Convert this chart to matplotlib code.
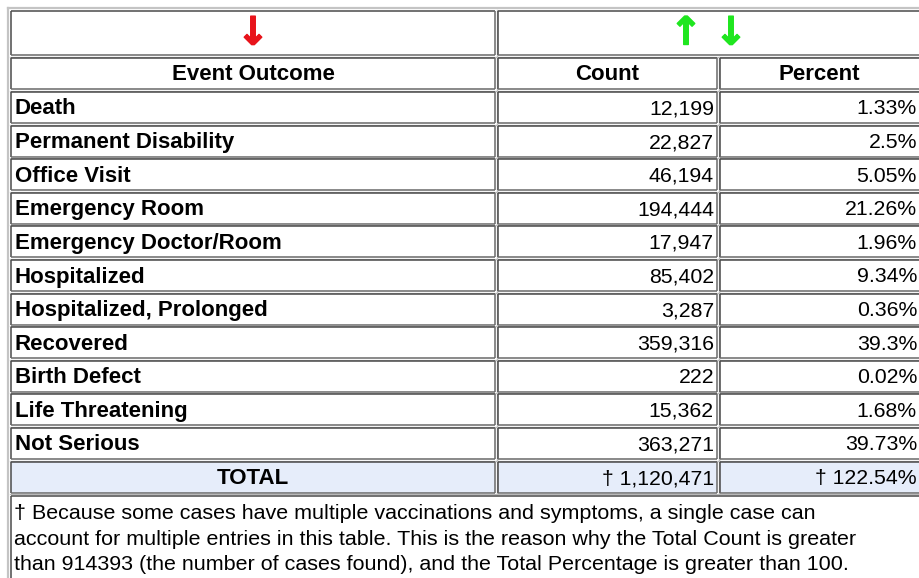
import matplotlib
matplotlib.use("Agg")
import matplotlib.pyplot as plt
from matplotlib.patches import Rectangle
import matplotlib.patheffects as pe

outcomes = ["Death", "Permanent Disability", "Office Visit", "Emergency Room",
            "Emergency Doctor/Room", "Hospitalized", "Hospitalized, Prolonged",
            "Recovered", "Birth Defect", "Life Threatening", "Not Serious"]
counts = [12199, 22827, 46194, 194444, 17947, 85402, 3287, 359316, 222, 15362, 363271]
percents = ["1.33%", "2.5%", "5.05%", "21.26%", "1.96%", "9.34%", "0.36%",
            "39.3%", "0.02%", "1.68%", "39.73%"]
headers = ["Event Outcome", "Count", "Percent"]
total_label = "TOTAL"
total_count = "\u2020 1,120,471"
total_percent = "\u2020 122.54%"
footnote = ["\u2020 Because some cases have multiple vaccinations and symptoms, a single case can",
            "account for multiple entries in this table. This is the reason why the Total Count is greater",
            "than 914393 (the number of cases found), and the Total Percentage is greater than 100."]

W, H = 919, 578
fig = plt.figure(figsize=(W / 100, H / 100), dpi=100)
ax = fig.add_axes([0, 0, 1, 1])
ax.set_xlim(0, W)
ax.set_ylim(H, 0)
ax.axis("off")

FONT = "Liberation Sans"
FS = 15.3
FSB = 16
FSN = 15.45

cols = [(11, 495), (498, 717), (720, 940)]
DARK = "#4a4a4a"
LIGHT = "#b8b8b8"


def cell(x0, x1, y0, y1, face="white"):
    ax.add_patch(Rectangle((x0, y0), x1 - x0, y1 - y0, facecolor=face,
                           edgecolor="none", zorder=1))
    ax.plot([x0, x1], [y0, y0], color=DARK, lw=1.1, zorder=2, solid_capstyle="butt")
    ax.plot([x0, x0], [y0, y1], color=DARK, lw=1.1, zorder=2, solid_capstyle="butt")
    ax.plot([x0, x1], [y1, y1], color="#6a6a6a", lw=1.1, zorder=2, solid_capstyle="butt")
    ax.plot([x1, x1], [y0, y1], color="#6a6a6a", lw=1.1, zorder=2, solid_capstyle="butt")
    ax.plot([x0 - 1.5, x1 + 1.5], [y1 + 1.5, y1 + 1.5], color=LIGHT, lw=0.9, zorder=2)
    ax.plot([x1 + 1.5, x1 + 1.5], [y0 - 1.5, y1 + 1.5], color=LIGHT, lw=0.9, zorder=2)


# outer table border
ax.plot([7.5, 7.5], [7.5, H + 5], color="#c4c4c4", lw=1.6, zorder=2)
ax.plot([7.5, W + 5], [7.5, 7.5], color="#c4c4c4", lw=1.6, zorder=2)

# arrow row
cell(cols[0][0], cols[0][1], 11, 55)
cell(cols[1][0], cols[2][1], 11, 55)
RED = "#e8141b"
GREEN = "#1fe61f"
for xc, glyph, colr in [(253, "\u2193", RED), (686, "\u2191", GREEN), (731, "\u2193", GREEN)]:
    ax.text(xc, 33.5, glyph, color=colr, fontsize=28, fontweight="bold",
            family="DejaVu Sans", ha="center", va="center", zorder=3,
            path_effects=[pe.withStroke(linewidth=1.0, foreground=colr)])

# header row
hy0, hy1 = 58, 89
for (x0, x1) in cols:
    cell(x0, x1, hy0, hy1)
centers = [253, 607, 819]
for c, h in zip(centers, headers):
    ax.text(c, (hy0 + hy1) / 2 + 1, h, fontsize=FSB, fontweight="bold", family=FONT,
            ha="center", va="center", zorder=3)

# data rows
TOP = 92
PITCH = 33.6
RH = 31
for i, (name, cnt, pct) in enumerate(zip(outcomes, counts, percents)):
    y0 = TOP + i * PITCH
    y1 = y0 + RH
    for (x0, x1) in cols:
        cell(x0, x1, y0, y1)
    yc = (y0 + y1) / 2 + 1.5
    ax.text(15, yc, name, fontsize=FSB, fontweight="bold", family=FONT,
            ha="left", va="center", zorder=3)
    ax.text(714, yc, f"{cnt:,}", fontsize=FS, family=FONT,
            ha="right", va="center", zorder=3)
    ax.text(917, yc, pct, fontsize=FS, family=FONT,
            ha="right", va="center", zorder=3)

# total row
ty0 = TOP + len(outcomes) * PITCH
ty1 = ty0 + RH
for (x0, x1) in cols:
    cell(x0, x1, ty0, ty1, face="#e6edfa")
tyc = (ty0 + ty1) / 2 + 1.5
ax.text(253, tyc, total_label, fontsize=FSB, fontweight="bold", family=FONT,
        ha="center", va="center", zorder=3)
ax.text(714, tyc, total_count, fontsize=FS, family=FONT,
        ha="right", va="center", zorder=3)
ax.text(917, tyc, total_percent, fontsize=FS, family=FONT,
        ha="right", va="center", zorder=3)

# footnote cell
fy0 = ty1 + 3
cell(11, 960, fy0, 620)
for j, line in enumerate(footnote):
    ax.text(14, fy0 + 18 + j * 25.5, line, fontsize=FSN, family=FONT,
            ha="left", va="center", zorder=3)

fig.savefig("out.png", dpi=100)
